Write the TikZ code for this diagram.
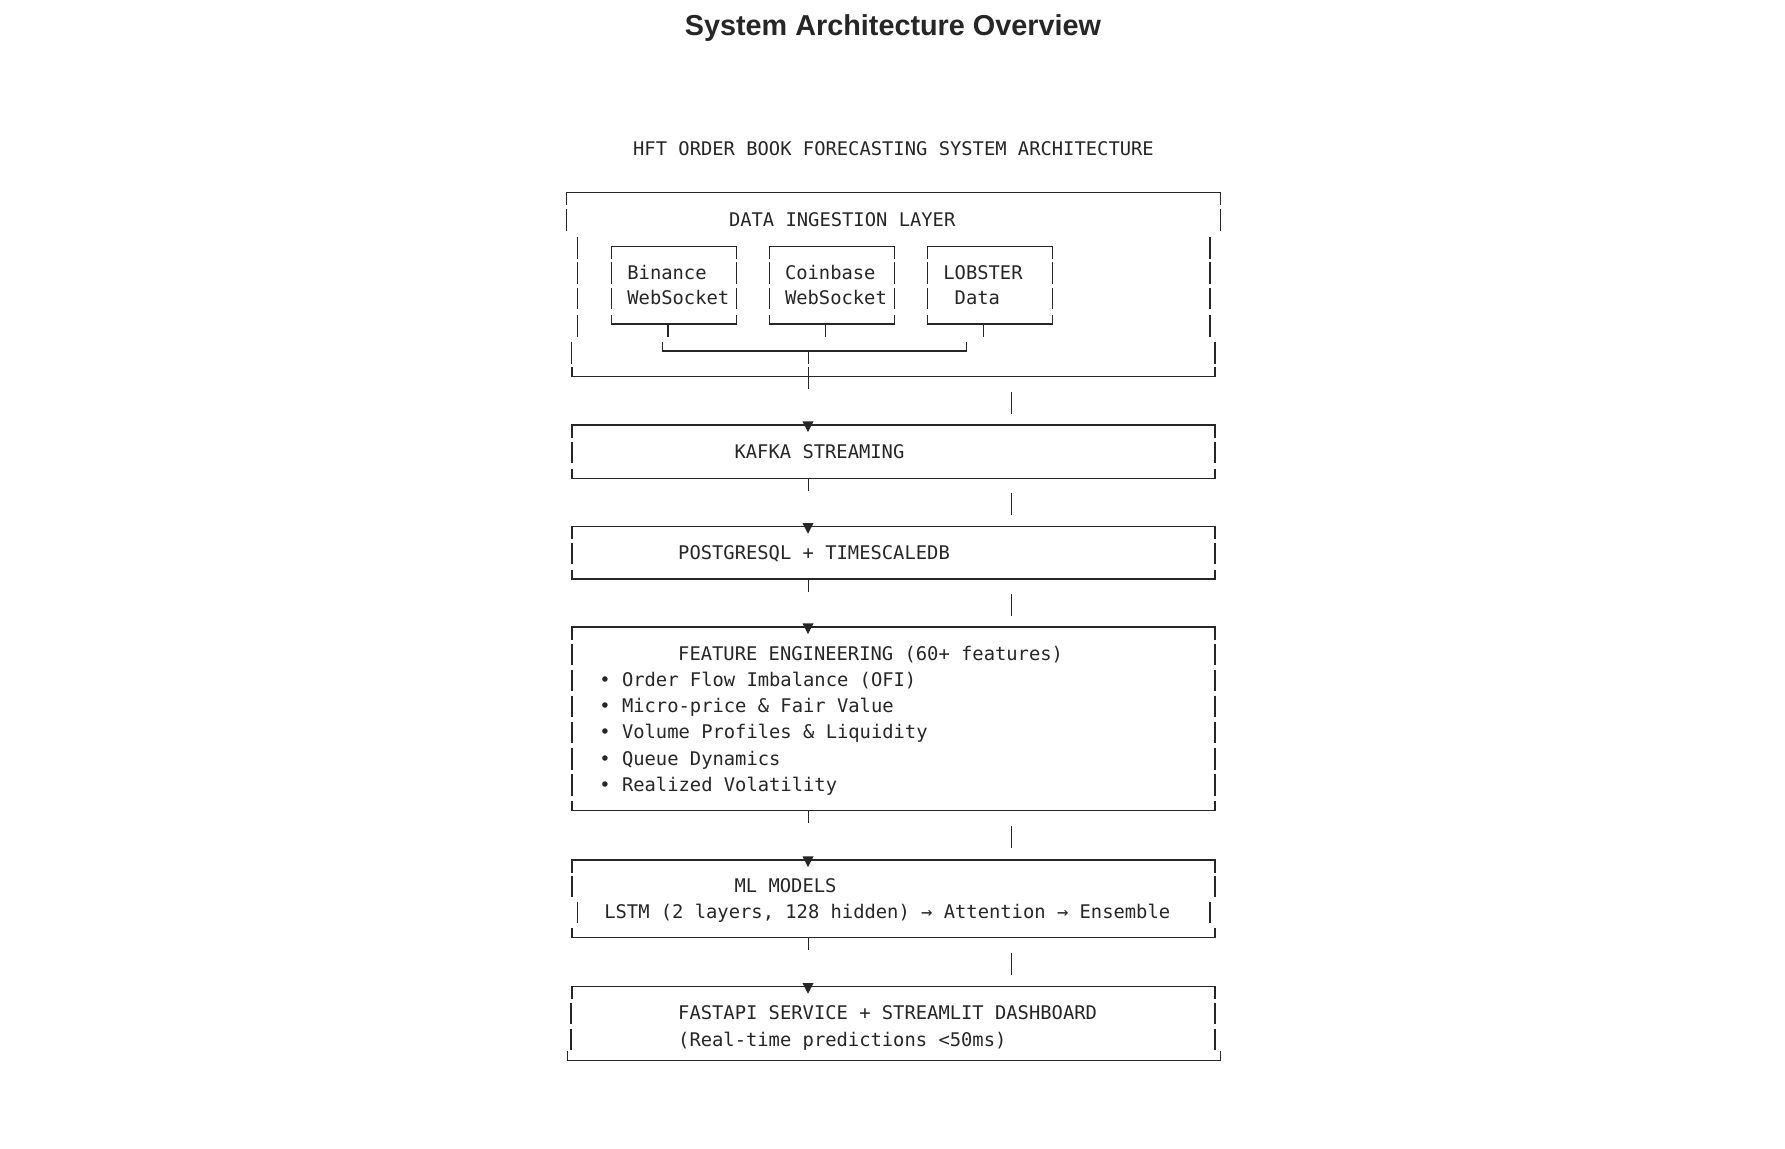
\documentclass[tikz,border=0pt]{standalone}
\usepackage{fontspec}
\setmainfont{Liberation Sans}
\newfontfamily\monofont{DejaVu Sans Mono}
\definecolor{ink}{HTML}{262626}
\tikzset{
  line/.style={draw=ink, line width=0.55pt},
  mono/.style={anchor=base west, inner sep=0pt, text=ink, font=\monofont\fontsize{9.4}{13}\selectfont},
  heading/.style={anchor=base, inner sep=0pt, text=ink, font=\fontsize{14.4}{17}\selectfont\bfseries}
}
\begin{document}
\begin{tikzpicture}[x=0.5pt,y=-0.5pt]
    \fill[white] (0,0) rectangle (1785,1149);
    \useasboundingbox (0,0) rectangle (1785,1149);
    % 标题
    \node[heading] (title) at (893,36) {System Architecture Overview};
    \node[mono, anchor=base] (header) at (893.5,156) {HFT ORDER BOOK FORECASTING SYSTEM ARCHITECTURE};
    % 数据接入层外框
    \draw[line] (566.5,204.9) -- (566.5,192.3) -- (1220.5,192.3) -- (1220.5,204.9);
    \draw[line] (566.5,209.3) -- (566.5,231.1) (1220.5,209.3) -- (1220.5,231.1);
    \foreach \b in {254.9,279.3,305,332.2}
        \draw[line] (577.4,\b-17.4) -- (577.4,\b+4.4) (1210,\b-17.4) -- (1210,\b+4.4);
    \draw[line] (571.5,341.8) -- (571.5,363.6) (1215,341.8) -- (1215,363.6);
    \draw[line] (572,367.5) -- (572,376.7) -- (1215,376.7) -- (1215,367.5);
    \node[mono] (ingest) at (728.6,226.7) {DATA INGESTION LAYER};
    % 三个数据源
    \foreach \l/\t in {611.3/668,769.6/825.2,927.4/983.9} {
        \draw[line] (\l,259.3) -- (\l,246.7) -- (\l+124.8,246.7) -- (\l+124.8,259.3);
        \foreach \b in {279.3,305}
            \draw[line] (\l,\b-17.4) -- (\l,\b+4.4) (\l+124.8,\b-17.4) -- (\l+124.8,\b+4.4);
        \draw[line] (\l,314.8) -- (\l,324) -- (\l+124.8,324) -- (\l+124.8,314.8);
        \draw[line] (\t,324) -- (\t,336.6);
    }
    \node[mono] (binance) at (627,279.3) {Binance};
    \node[mono] (binancews) at (627,305) {WebSocket};
    \node[mono] (coinbase) at (784.6,279.3) {Coinbase};
    \node[mono] (coinbasews) at (784.6,305) {WebSocket};
    \node[mono] (lobster) at (943,279.3) {LOBSTER};
    \node[mono] (lobsterdata) at (954.3,305) {Data};
    % 汇合线
    \coordinate (mergeL) at (662.2,351);
    \coordinate (mergeR) at (966.5,351);
    \coordinate (mergeM) at (808.7,351);
    \draw[line] ([yshift=4.6pt]mergeL) -- (mergeL) -- (mergeR) -- ([yshift=4.6pt]mergeR);
    \draw[line] (mergeM) -- (808.7,363.6);
    \draw[line] (808.7,367.5) -- (808.7,389.3);
    % 各层方框
    \foreach \t/\e in {425/478.3,526.7/579,627/810.7,860/937.5} {
        \draw[line] (572,\t+12.6) -- (572,\t) -- (1215,\t) -- (1215,\t+12.6);
        \draw[line] (572,\e-9.2) -- (572,\e) -- (1215,\e) -- (1215,\e-9.2);
    }
    \draw[line] (572,999.3) -- (572,986.7) -- (1215,986.7) -- (1215,999.3);
    \draw[line] (567.8,1051.3) -- (567.8,1060.5) -- (1220.9,1060.5) -- (1220.9,1051.3);
    \foreach \b in {459,560,661,687,713,739,765.5,791.5,893}
        \draw[line] (572,\b-17.4) -- (572,\b+4.4) (1215,\b-17.4) -- (1215,\b+4.4);
    \draw[line] (577.4,901.6) -- (577.4,923.4) (1210,901.6) -- (1210,923.4);
    \foreach \b in {1020,1046}
        \draw[line] (571,\b-17.4) -- (571,\b+4.4) (1215,\b-17.4) -- (1215,\b+4.4);
    % 层间连接
    \foreach \e/\f/\g/\t in {376.7/392.2/414/425,478.3/493.3/515/526.7,579/594/616.3/627,810.7/826/848.5/860,937.5/953.5/975.5/986.7} {
        \draw[line] (1011.5,\f) -- (1011.5,\g);
        \fill[ink] (802.5,\t-3.5) -- (813.5,\t-3.5) -- (808,\t+7) -- cycle;
    }
    \foreach \e in {478.3,579,810.7,937.5}
        \draw[line] (808.7,\e) -- (808.7,\e+12.6);
    % 文字
    \node[mono] (kafka) at (734.2,459) {KAFKA STREAMING};
    \node[mono] (pg) at (677.8,560) {POSTGRESQL + TIMESCALEDB};
    \node[mono] (feat) at (677.8,661) {FEATURE ENGINEERING (60+ features)};
    \node[mono] (ofi) at (599,687) {• Order Flow Imbalance (OFI)};
    \node[mono] (micro) at (599,713) {• Micro-price \& Fair Value};
    \node[mono] (volume) at (599,739) {• Volume Profiles \& Liquidity};
    \node[mono] (queue) at (599,765.5) {• Queue Dynamics};
    \node[mono] (vol) at (599,791.5) {• Realized Volatility};
    \node[mono] (ml) at (734.2,893) {ML MODELS};
    \node[mono] (lstm) at (603.9,919) {LSTM (2 layers, 128 hidden) → Attention → Ensemble};
    \node[mono] (api) at (677.8,1020) {FASTAPI SERVICE + STREAMLIT DASHBOARD};
    \node[mono] (apinote) at (677.8,1046) {(Real-time predictions <50ms)};
\end{tikzpicture}
\end{document}
